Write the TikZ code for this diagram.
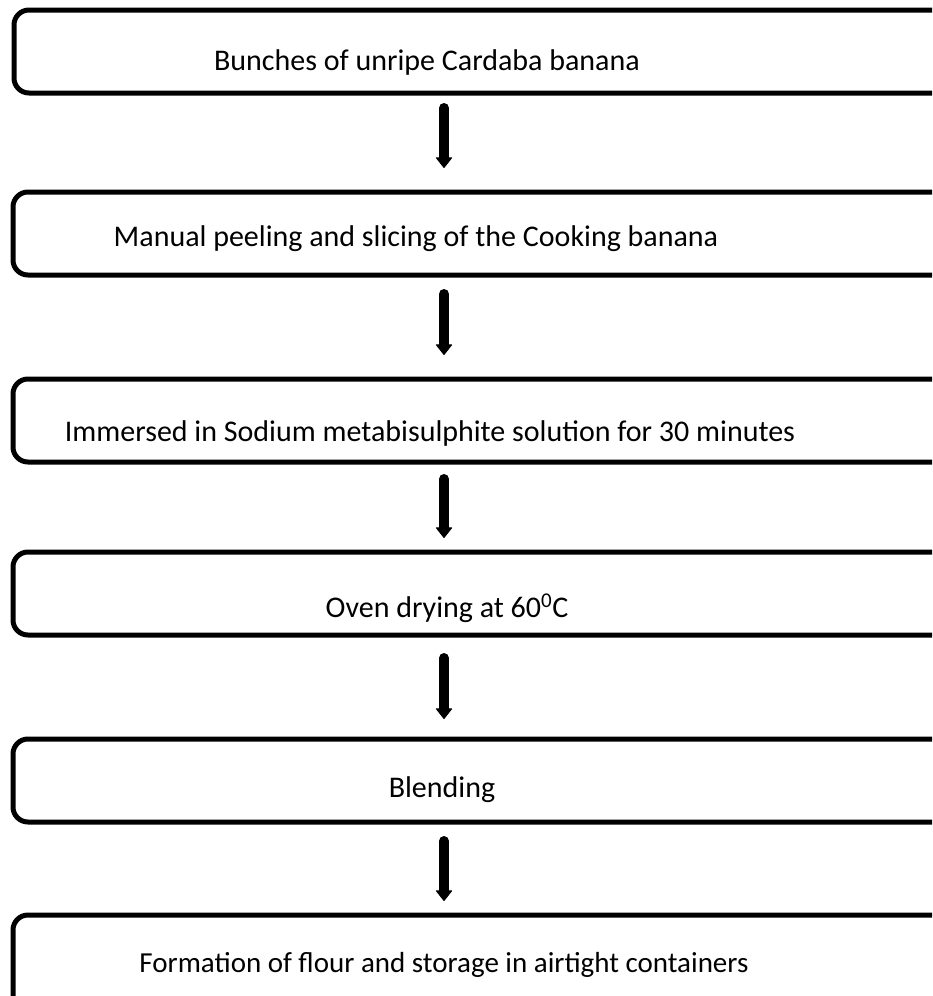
\documentclass[tikz,border=0pt]{standalone}
\usepackage{fontspec}
\setmainfont{Carlito}
\usepackage{tikz}
\usetikzlibrary{arrows.meta}
\newcommand{\BoxW}{1000}
\newcommand{\BoxH}{83}
\newcommand{\ArrowX}{444}

\tikzset{
  stepbox/.style={draw, line width=5pt, rounded corners=15pt, outer sep=0pt,
    inner sep=0pt, minimum width=\BoxW pt, minimum height=\BoxH pt, anchor=north west},
  steptext/.style={anchor=base, inner sep=0pt, font=\fontsize{30}{36}\selectfont},
  flowarrow/.style={line width=10pt, line cap=round,
    -{Triangle[width=17pt,length=11pt,line width=1pt,round]}}
}

\begin{document}
\begin{tikzpicture}[x=1pt,y=-1pt]
\useasboundingbox (0,0) rectangle (932,996);
\clip (0,0) rectangle (932,996);

% process boxes
\node[stepbox] (b1) at (14,10) {};
\node[stepbox] (b2) at (13,192) {};
\node[stepbox] (b3) at (13,379) {};
\node[stepbox] (b4) at (13,552) {};
\node[stepbox] (b5) at (13,739) {};
\node[stepbox, minimum height=100pt] (b6) at (13,915) {};% runs off the page

% texts
\node[steptext] (t1) at (427,70) {Bunches of unripe Cardaba banana};
\node[steptext] (t2) at (416,246) {Manual peeling and slicing of the Cooking banana};
\node[steptext] (t3) at (430,441) {Immersed in Sodium metabisulphite solution for 30 minutes};
\node[steptext] (t4) at (447,617) {Oven drying at 60\textsuperscript{0}C};
\node[steptext] (t5) at (442,797) {Blending};
\node[steptext, font=\fontsize{29}{35}\selectfont] (t6) at (444,972) {Formation of flour and storage in airtight containers};

% arrows
\coordinate (col) at (\ArrowX,0);
\foreach \a/\b/\s/\e in {b1/b2/15pt/24pt, b2/b3/19pt/24pt, b3/b4/17pt/14pt,
                         b4/b5/23pt/20pt, b5/b6/19pt/14pt}{
  \draw[flowarrow, shorten <=\s, shorten >=\e] (\a.south -| col) -- (\b.north -| col);
}
\end{tikzpicture}
\end{document}
